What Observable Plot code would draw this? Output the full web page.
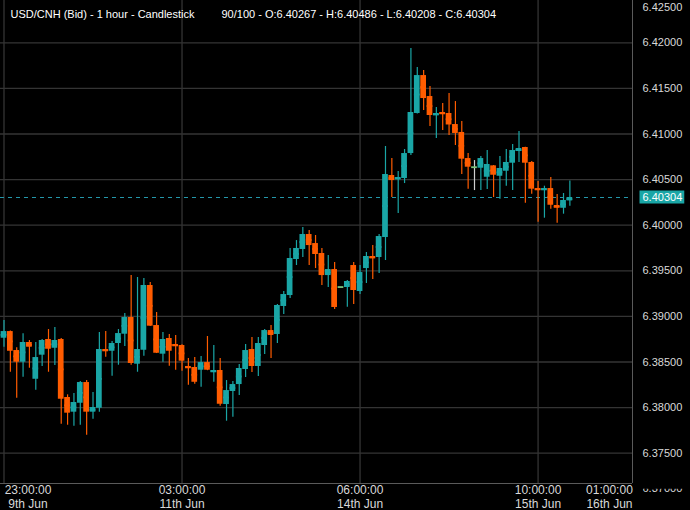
<!DOCTYPE html>
<html><head><meta charset="utf-8">
<script src="https://cdn.jsdelivr.net/npm/d3@7"></script>
<script src="https://cdn.jsdelivr.net/npm/@observablehq/plot@0.6"></script>
<style>
html,body{margin:0;padding:0;background:#000;}
#chart{width:690px;height:510px;overflow:hidden;}
</style></head><body><div id="chart"></div>
<script>
// ---- data (hourly candles, index 0 = 23:00 9th Jun) ----
const opens = [6.38761,6.38834,6.38626,6.38498,6.38714,6.38311,6.38575,6.38747,6.38651,6.38747,
6.38111,6.37950,6.38048,6.38275,6.37950,6.37993,6.38637,6.38618,6.38703,6.38805,
6.38988,6.38476,6.38629,6.39339,6.38900,6.38586,6.38758,6.38692,6.38681,6.38451,
6.38440,6.38410,6.38494,6.38388,6.38407,6.38034,6.38177,6.38253,6.38418,6.38637,
6.38451,6.38681,6.38845,6.38802,6.39109,6.39229,6.39624,6.39734,6.39898,6.39799,
6.39690,6.39448,6.39514,6.39322,6.39317,6.39558,6.39273,6.39525,6.39657,6.39646,
6.39865,6.40545,6.40501,6.40512,6.40786,6.41225,6.41641,6.41411,6.41203,6.41236,
6.41225,6.41104,6.41017,6.40731,6.40636,6.40625,6.40526,6.40651,6.40537,6.40592,
6.40680,6.40808,6.40852,6.40688,6.40402,6.40384,6.40402,6.40216,6.40186,6.40267];
const highs = [6.38955,6.38840,6.38656,6.38809,6.38736,6.38714,6.38747,6.38856,6.38878,6.38758,
6.38140,6.38155,6.38286,6.38297,6.38166,6.38823,6.38834,6.38725,6.38856,6.39032,
6.39448,6.39427,6.39416,6.39372,6.39043,6.38823,6.38802,6.38791,6.38690,6.38538,
6.38549,6.38560,6.38780,6.38681,6.38538,6.38297,6.38286,6.38473,6.38692,6.38769,
6.38769,6.38856,6.38900,6.39130,6.39273,6.39745,6.39832,6.39975,6.39942,6.39887,
6.39745,6.39668,6.39591,6.39322,6.39394,6.39591,6.39558,6.39701,6.39777,6.39898,
6.40863,6.40731,6.40589,6.40830,6.41938,6.41729,6.41696,6.41521,6.41291,6.41335,
6.41444,6.41356,6.41137,6.40786,6.40709,6.40753,6.40819,6.40655,6.40753,6.40830,
6.40885,6.41027,6.40856,6.40698,6.40479,6.40428,6.40523,6.40337,6.40348,6.40486];
const lows = [6.38662,6.38388,6.38103,6.38333,6.38432,6.38191,6.38451,6.38388,6.38462,6.37818,
6.37807,6.37796,6.37807,6.37697,6.37873,6.37950,6.38553,6.38344,6.38465,6.38670,
6.38465,6.38388,6.38564,6.38889,6.38593,6.38498,6.38454,6.38410,6.38399,6.38246,
6.38257,6.38224,6.38405,6.38278,6.38015,6.37851,6.37895,6.38133,6.38330,6.38385,
6.38341,6.38582,6.38538,6.38703,6.39021,6.39196,6.39558,6.39646,6.39558,6.39525,
6.39339,6.39317,6.39076,6.39322,6.39101,6.39130,6.39240,6.39361,6.39405,6.39470,
6.39613,6.40304,6.40128,6.40457,6.40764,6.41220,6.41258,6.41082,6.40951,6.41038,
6.40984,6.40874,6.40556,6.40395,6.40380,6.40380,6.40391,6.40304,6.40285,6.40428,
6.40380,6.40688,6.40241,6.40340,6.40033,6.40077,6.40175,6.40022,6.40121,6.40208];
const closes = [6.38834,6.38618,6.38498,6.38714,6.38662,6.38549,6.38736,6.38640,6.38736,6.38092,
6.37939,6.38056,6.38275,6.37950,6.38001,6.38637,6.38618,6.38703,6.38812,6.38988,
6.38484,6.38637,6.39339,6.38893,6.38596,6.38747,6.38618,6.38673,6.38509,6.38432,
6.38278,6.38494,6.38410,6.38407,6.38037,6.38187,6.38253,6.38429,6.38626,6.38451,
6.38703,6.38845,6.38791,6.39120,6.39240,6.39635,6.39745,6.39898,6.39777,6.39679,
6.39448,6.39514,6.39098,6.39322,6.39383,6.39284,6.39481,6.39657,6.39635,6.39876,
6.40556,6.40490,6.40523,6.40786,6.41236,6.41641,6.41389,6.41203,6.41225,6.41217,
6.41099,6.41006,6.40724,6.40636,6.40636,6.40731,6.40666,6.40548,6.40622,6.40688,
6.40819,6.40841,6.40680,6.40395,6.40384,6.40402,6.40219,6.40189,6.40271,6.40304];

const yTicks = [6.375, 6.380, 6.385, 6.390, 6.395, 6.400, 6.405, 6.410, 6.415, 6.420];
const yTopTick = 6.425;
const yBottomTick = 6.370;
const xTickIdx = [0, 28, 56, 84, 99];
const xTickTime = ["23:00:00", "03:00:00", "06:00:00", "10:00:00", "01:00:00"];
const xTickDate = ["9th Jun", "11th Jun", "14th Jun", "15th Jun", "16th Jun"];
const titleText = "USD/CNH (Bid) - 1 hour - Candlestick";
const ohlcText = "90/100 - O:6.40267 - H:6.40486 - L:6.40208 - C:6.40304";
const lastPrice = 6.40304;

// ---- styling ----
const TEAL = "#1aa6a6", ORANGE = "#ff5c00", DOJI = "#7cc47c";
const GRID = "#343434", AXIS = "#5a5a5a", LABEL = "#d9d9d9";
const FONT = "'Liberation Sans', Arial, Helvetica, sans-serif";

const data = opens.map((o, i) => ({i, o, h: highs[i], l: lows[i], c: closes[i]}));
const col = d => d.c > d.o ? TEAL : d.c < d.o ? ORANGE : DOJI;
const wickCol = d => d.c > d.o ? TEAL : d.c < d.o ? ORANGE : "#cfcfcf";
const ticks = xTickIdx.map((i, k) => ({i, time: xTickTime[k], date: xTickDate[k]}));

const xDomain = [-0.55, 98.85];
const yDomain = [6.37168, 6.42464];

const tickLabels = (subset, dx) => [
  Plot.text(subset, {x: "i", text: "time", frameAnchor: "bottom", lineAnchor: "middle", dy: 6.5, dx, fill: LABEL, fontSize: 12}),
  Plot.text(subset, {x: "i", text: "date", frameAnchor: "bottom", lineAnchor: "middle", dy: 20.5, dx, fill: LABEL, fontSize: 12})
];

const chart = Plot.plot({
  width: 690, height: 510,
  marginLeft: 0, marginRight: 58, marginTop: 0, marginBottom: 27,
  x: {type: "linear", domain: xDomain, axis: null},
  y: {domain: yDomain, axis: null},
  style: {background: "#000", fontFamily: FONT, fontSize: "11px", color: LABEL},
  marks: [
    Plot.ruleY(yTicks, {stroke: GRID, strokeWidth: 1.3}),
    Plot.ruleX(xTickIdx.slice(0, 4), {stroke: GRID, strokeWidth: 1.3}),
    Plot.ruleY([lastPrice], {stroke: "#2497aa", strokeWidth: 1.2, strokeDasharray: "4,4"}),
    Plot.ruleX(data, {x: "i", y1: "l", y2: "h", stroke: wickCol, strokeWidth: 1.2}),
    Plot.rect(data, {x1: d => d.i - 0.45, x2: d => d.i + 0.45, y1: "o", y2: "c", fill: col}),
    Plot.ruleY(data, {x1: d => d.i - 0.45, x2: d => d.i + 0.45, y: d => (d.o + d.c) / 2, stroke: col, strokeWidth: 1.8}),
    Plot.ruleX([xDomain[1]], {stroke: AXIS}),
    Plot.ruleY([yDomain[0]], {stroke: AXIS}),
    Plot.axisY({anchor: "right", ticks: yTicks, tickSize: 0, tickPadding: 10, tickFormat: d => d.toFixed(5), label: null, fill: LABEL, fontSize: 11}),
    Plot.text([yTopTick], {y: d => d, frameAnchor: "right", dx: 10, dy: 10, textAnchor: "start", text: d => d.toFixed(5), fill: LABEL, fontSize: 11}),
    Plot.text([yBottomTick], {y: d => d, frameAnchor: "right", dx: 10, dy: -10, textAnchor: "start", text: d => d.toFixed(5), fill: LABEL, fontSize: 11}),
    Plot.text([lastPrice], {y: d => d, frameAnchor: "right", dx: 10, textAnchor: "start", text: d => d.toFixed(5), fill: "#fff", fontSize: 11}),
    ...tickLabels(ticks.slice(0, 1), 24),
    ...tickLabels(ticks.slice(1, 4), 0),
    ...tickLabels(ticks.slice(4), -24),
    Plot.text([titleText], {frameAnchor: "top-left", dx: 10, dy: 14, lineAnchor: "middle", textAnchor: "start", fill: "#fff", fontSize: 11}),
    Plot.text([ohlcText], {frameAnchor: "top-left", dx: 221, dy: 14, lineAnchor: "middle", textAnchor: "start", fill: "#fff", fontSize: 11})
  ]
});
document.getElementById("chart").appendChild(chart);

// decorations: price tag box and clipped bottom label
const svg = d3.select(chart);
const ys = chart.scale("y");
svg.selectAll("text").each(function() {
  const t = this.textContent;
  if (t === lastPrice.toFixed(5)) {
    const bb = this.getBBox();
    const tr = this.getAttribute("transform");
    const r = d3.select(this.parentNode).insert("rect", () => this)
      .attr("x", bb.x - 3).attr("y", bb.y - 0.5).attr("width", bb.width + 5).attr("height", bb.height + 1)
      .attr("fill", TEAL);
    if (tr) r.attr("transform", tr);
  }
  if (t === yBottomTick.toFixed(5)) {
    const id = "clipBottom";
    svg.append("defs").append("clipPath").attr("id", id).append("rect")
      .attr("x", 0).attr("y", 0).attr("width", 690).attr("height", ys.apply(yDomain[0]) + 4);
    d3.select(this).attr("clip-path", `url(#${id})`);
  }
});
</script>
</body></html>
